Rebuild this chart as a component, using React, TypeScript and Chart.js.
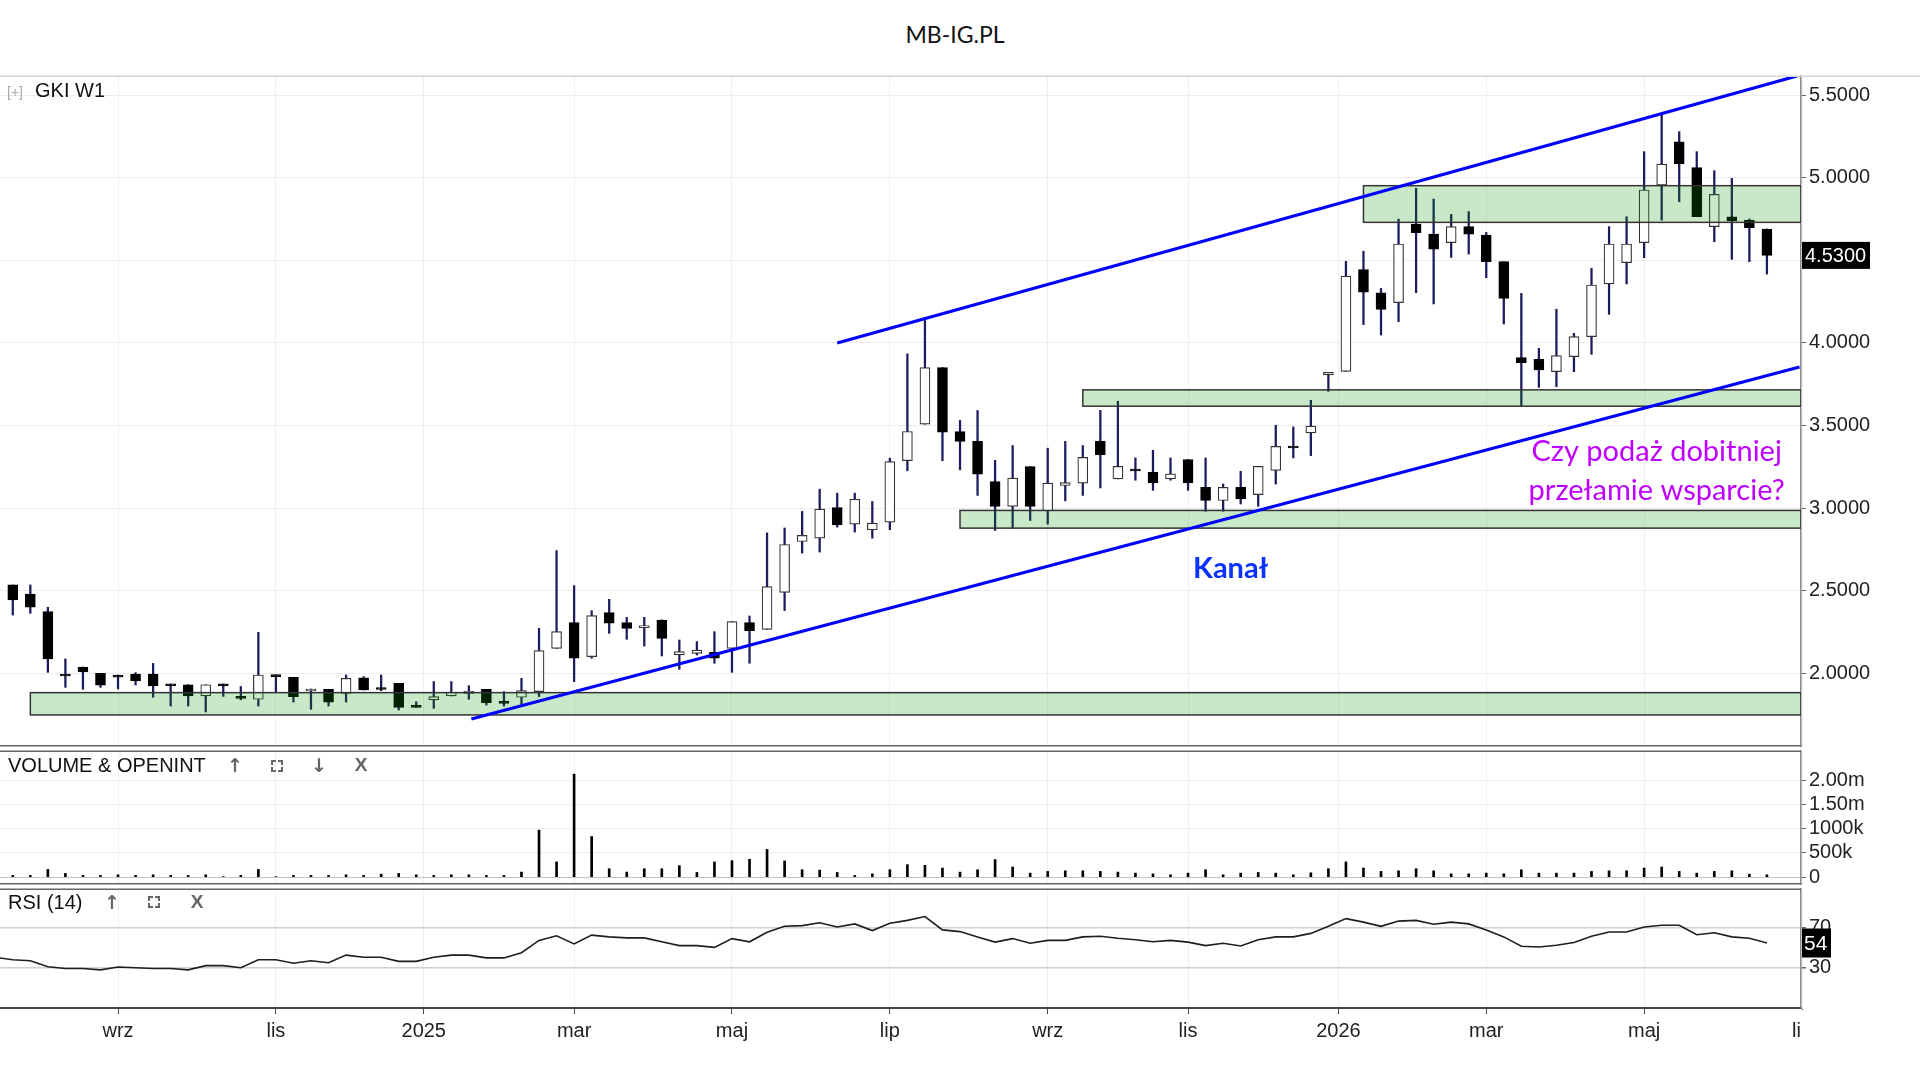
import React, { useEffect, useRef } from 'react';
import { Chart, registerables } from 'chart.js';

Chart.register(...registerables);

// ---------- data (weekly candles, first week 2024-07-22) ----------
const FIRST_WEEK = '2024-07-22';

const OPEN = [
  2.535, 2.48, 2.373, 1.99, 2.038, 2.0, 1.98, 1.996, 1.996, 1.935,
  1.931, 1.863, 1.935, 1.855, 1.843, 1.99, 1.976, 1.893, 1.903, 1.879,
  1.972, 1.905, 1.939, 1.8, 1.839, 1.863, 1.879, 1.903, 1.82, 1.855,
  1.889, 2.151, 2.307, 2.101, 2.367, 2.307, 2.276, 2.323, 2.111, 2.121,
  2.127, 2.151, 2.307, 2.266, 2.49, 2.798, 2.818, 3.004, 2.903, 2.869,
  2.915, 3.287, 3.508, 3.851, 3.464, 3.404, 3.161, 3.01, 3.252, 2.984,
  3.137, 3.151, 3.405, 3.177, 3.231, 3.217, 3.177, 3.294, 3.126, 3.046,
  3.126, 3.082, 3.229, 3.37, 3.455, 3.806, 3.828, 4.444, 4.304, 4.244,
  4.72, 4.659, 4.607, 4.704, 4.653, 4.492, 3.911, 3.901, 3.826, 3.917,
  4.038, 4.357, 4.486, 4.607, 4.956, 5.218, 5.061, 4.704, 4.764, 4.744,
  4.69,
];
const HIGH = [
  2.535, 2.535, 2.4, 2.087, 2.038, 2.0, 1.99, 2.004, 2.06, 1.935,
  1.931, 1.931, 1.935, 1.92, 2.248, 1.99, 1.976, 1.905, 1.903, 1.99,
  1.98, 1.99, 1.939, 1.828, 1.95, 1.95, 1.925, 1.903, 1.889, 1.97,
  2.272, 2.743, 2.531, 2.379, 2.448, 2.339, 2.339, 2.323, 2.202, 2.192,
  2.252, 2.313, 2.347, 2.85, 2.88, 2.98, 3.115, 3.091, 3.091, 3.04,
  3.303, 3.934, 4.136, 3.851, 3.531, 3.591, 3.289, 3.379, 3.252, 3.363,
  3.404, 3.379, 3.592, 3.647, 3.304, 3.35, 3.304, 3.294, 3.304, 3.146,
  3.223, 3.253, 3.502, 3.492, 3.653, 3.822, 4.494, 4.555, 4.33, 4.75,
  4.936, 4.871, 4.778, 4.795, 4.669, 4.492, 4.3, 3.967, 4.204, 4.058,
  4.452, 4.704, 4.764, 5.158, 5.38, 5.279, 5.158, 5.043, 4.996, 4.75,
  4.69,
];
const LOW = [
  2.353, 2.363, 2.006, 1.915, 1.903, 1.915, 1.905, 1.929, 1.855, 1.802,
  1.802, 1.766, 1.86, 1.84, 1.802, 1.883, 1.826, 1.782, 1.802, 1.826,
  1.899, 1.895, 1.778, 1.794, 1.788, 1.863, 1.843, 1.808, 1.802, 1.814,
  1.859, 2.151, 1.95, 2.091, 2.242, 2.206, 2.165, 2.105, 2.024, 2.111,
  2.061, 2.006, 2.061, 2.266, 2.38, 2.728, 2.734, 2.885, 2.855, 2.818,
  2.869, 3.226, 3.508, 3.287, 3.232, 3.077, 2.865, 2.879, 2.925, 2.903,
  3.044, 3.077, 3.122, 3.177, 3.169, 3.108, 3.169, 3.108, 2.981, 2.981,
  3.025, 3.011, 3.146, 3.304, 3.318, 3.707, 3.828, 4.111, 4.048, 4.129,
  4.304, 4.236, 4.518, 4.538, 4.395, 4.115, 3.616, 3.731, 3.735, 3.826,
  3.931, 4.173, 4.357, 4.516, 4.744, 4.855, 4.764, 4.613, 4.506, 4.492,
  4.417,
];
const CLOSE = [
  2.444, 2.4, 2.087, 1.984, 2.008, 1.929, 1.976, 1.954, 1.923, 1.925,
  1.863, 1.931, 1.925, 1.848, 1.99, 1.98, 1.859, 1.905, 1.826, 1.97,
  1.899, 1.902, 1.794, 1.794, 1.859, 1.887, 1.893, 1.822, 1.818, 1.895,
  2.137, 2.252, 2.091, 2.349, 2.303, 2.272, 2.289, 2.212, 2.131, 2.141,
  2.091, 2.313, 2.258, 2.525, 2.78, 2.835, 2.994, 2.899, 3.054, 2.909,
  3.282, 3.464, 3.851, 3.46, 3.404, 3.206, 3.01, 3.182, 3.01, 3.151,
  3.155, 3.307, 3.324, 3.253, 3.225, 3.153, 3.207, 3.153, 3.046, 3.126,
  3.056, 3.253, 3.374, 3.364, 3.496, 3.822, 4.404, 4.307, 4.203, 4.599,
  4.667, 4.567, 4.704, 4.659, 4.492, 4.27, 3.881, 3.836, 3.923, 4.038,
  4.351, 4.599, 4.599, 4.926, 5.083, 5.083, 4.764, 4.9, 4.74, 4.698,
  4.53,
];
// weekly volume, thousands of shares
const VOLUME_K = [
  35, 35, 160, 77, 35, 35, 49, 35, 49, 35,
  35, 49, 12, 35, 160, 12, 35, 35, 35, 49,
  35, 63, 77, 49, 35, 49, 49, 35, 35, 105,
  969, 314, 2120, 837, 174, 105, 174, 174, 237, 98,
  314, 341, 369, 572, 335, 153, 146, 98, 35, 70,
  153, 258, 244, 188, 105, 153, 363, 209, 84, 119,
  132, 132, 119, 105, 84, 70, 49, 84, 153, 49,
  84, 98, 84, 49, 91, 174, 314, 188, 119, 132,
  174, 132, 70, 70, 84, 70, 153, 84, 84, 84,
  119, 132, 132, 188, 209, 119, 84, 119, 132, 63,
  49,
];
// RSI(14), starting one week before the first candle
const RSI_FIRST_WEEK = '2024-07-15';
const RSI = [
  40,
  37.7, 36.7, 30.7, 28.9, 28.9, 27.5, 30.4, 29.6, 28.9, 28.9,
  27.5, 31.8, 31.8, 29.6, 37.7, 37.7, 34.2, 36.7, 34.6, 42.3,
  40.2, 40.2, 36.0, 36.0, 40.2, 42.3, 42.3, 39.5, 39.5, 44.7,
  57.0, 61.6, 53.5, 62.3, 60.5, 59.5, 59.5, 55.6, 51.8, 51.8,
  50.0, 58.8, 55.6, 65.1, 71.1, 71.8, 74.6, 70.4, 73.5, 66.8,
  74.2, 77.0, 80.9, 67.5, 65.8, 60.5, 55.3, 58.8, 54.2, 57.0,
  57.0, 60.5, 61.2, 59.1, 57.7, 55.6, 57.0, 55.3, 51.8, 54.2,
  51.4, 57.7, 60.5, 60.5, 64.0, 71.1, 78.8, 75.3, 71.1, 76.3,
  77.0, 73.2, 75.3, 73.5, 67.5, 60.5, 51.1, 50.4, 52.1, 54.9,
  61.2, 65.4, 65.4, 70.4, 72.1, 72.1, 62.6, 64.7, 60.5, 59.1,
  54.4,
];

const PRICE_TICKS = [2.0, 2.5, 3.0, 3.5, 4.0, 4.5, 5.0, 5.5];
const VOLUME_TICKS = [0, 500000, 1000000, 1500000, 2000000];
const VOLUME_TICK_LABELS = ['0', '500k', '1000k', '1.50m', '2.00m'];
const RSI_TICKS = [30, 70];
// month ticks sit on the first weekly bar of each month (years on the first session)
const MONTH_TICKS = [
  '2024-09-02', '2024-11-04', '2025-01-02', '2025-03-03', '2025-05-05', '2025-07-07',
  '2025-09-08', '2025-11-03', '2026-01-02', '2026-03-02', '2026-05-04', '2026-07-06',
];
const MONTH_LABELS = ['wrz', 'lis', '2025', 'mar', 'maj', 'lip', 'wrz', 'lis', '2026', 'mar', 'maj', 'lip'];

// trend channel
const CHANNEL_UPPER_DATES = ['2025-06-16', '2026-07-04'];
const CHANNEL_UPPER_VALUES = [4.0, 5.616];
const CHANNEL_LOWER_DATES = ['2025-01-21', '2026-07-05'];
const CHANNEL_LOWER_VALUES = [1.723, 3.854];

// support / resistance zones (extend to the right edge)
const ZONE_START = ['2024-07-29', '2025-08-04', '2025-09-22', '2026-01-12'];
const ZONE_LOW = [1.748, 2.879, 3.617, 4.73];
const ZONE_HIGH = [1.883, 2.986, 3.716, 4.952];

// ---------- helpers ----------
const SANS = '"Liberation Sans", Arial, sans-serif';
const NOTE_FONT = 'Lato, "Open Sans", sans-serif';
const FS = 20;

const NOTES = [
  { text: 'Kanał', date: '2025-11-20', price: 2.577, color: '#0a32ff', font: `bold 29px ${NOTE_FONT}` },
  { text: 'Czy podaż dobitniej', date: '2026-05-09', price: 3.285, color: '#c000ff', font: `29px ${NOTE_FONT}` },
  { text: 'przełamie wsparcie?', date: '2026-05-09', price: 3.052, color: '#c000ff', font: `29px ${NOTE_FONT}` },
];

const toDay = (s: string) => Date.parse(s + 'T00:00:00Z') / 86400000;
const weekDay = (start: string, i: number) => toDay(start) + 7 * i;
const X_MIN = toDay(FIRST_WEEK) - 5.1;
const X_MAX = toDay(FIRST_WEEK) + 713.6;
const AXIS_W = 119;

function xAxis(showLabels: boolean): any {
  return {
    type: 'linear',
    min: X_MIN,
    max: X_MAX,
    offset: false,
    afterBuildTicks: (s: any) => {
      s.ticks = MONTH_TICKS.map((d) => ({ value: toDay(d) }));
    },
    ticks: {
      display: showLabels,
      autoSkip: false,
      maxRotation: 0,
      minRotation: 0,
      padding: 5,
      color: '#222',
      font: { size: FS, family: SANS },
      callback: (_v: any, i: number) => MONTH_LABELS[i],
    },
    grid: {
      offset: false,
      color: '#efefef',
      lineWidth: 1,
      drawTicks: showLabels,
      tickLength: 6,
      tickColor: '#444',
    },
    border: { display: true, color: showLabels ? '#444' : '#666', width: showLabels ? 2 : 1.5 },
    afterFit: (s: any) => {
      s.paddingLeft = 0;
      s.paddingRight = 0;
      s.height = showLabels ? 40 : 0;
    },
  };
}

function yAxis(min: number, max: number, ticks: number[], label: (v: number, i: number) => string, gridColor: any, gridWidth = 1): any {
  return {
    type: 'linear',
    position: 'right',
    min,
    max,
    afterBuildTicks: (s: any) => {
      s.ticks = ticks.map((v) => ({ value: v }));
    },
    ticks: {
      padding: 3,
      color: '#222',
      font: { size: FS, family: SANS },
      callback: (v: any, i: number) => label(Number(v), i),
    },
    grid: { color: gridColor, lineWidth: gridWidth, tickColor: '#666', tickLength: 5, drawTicks: true },
    border: { display: true, color: '#888', width: 1.5 },
    afterFit: (s: any) => {
      s.width = AXIS_W;
      s.paddingTop = 0;
      s.paddingBottom = 0;
    },
  };
}

const baseOptions = (padTop: number, padBottom: number): any => ({
  responsive: false,
  animation: false,
  events: [],
  layout: { padding: { top: padTop, bottom: padBottom, left: 0, right: 0 } },
  plugins: { legend: { display: false }, tooltip: { enabled: false }, title: { display: false } },
});

function paneTopLine(color: string, fullWidth: boolean) {
  return (chart: any) => {
    const { ctx, chartArea: a } = chart;
    ctx.save();
    ctx.strokeStyle = color;
    ctx.lineWidth = 1.5;
    ctx.beginPath();
    ctx.moveTo(0, a.top + 0.25);
    ctx.lineTo(fullWidth ? chart.width : a.right, a.top + 0.25);
    ctx.stroke();
    ctx.restore();
  };
}

function mainConfig(): any {
  const isUp = (i: number) => CLOSE[i] >= OPEN[i];
  const bodies = OPEN.map((o, i) => ({ x: weekDay(FIRST_WEEK, i), y: [o, CLOSE[i]] }));
  const wicks = OPEN.map((_, i) => ({ x: weekDay(FIRST_WEEK, i), y: [LOW[i], HIGH[i]] }));
  const line = (dates: string[], vals: number[]) => dates.map((d, i) => ({ x: toDay(d), y: vals[i] }));
  const topLine = paneTopLine('#d6d6d6', true);
  return {
    type: 'bar',
    data: {
      datasets: [
        {
          type: 'line', data: line(CHANNEL_UPPER_DATES, CHANNEL_UPPER_VALUES),
          borderColor: '#0000ff', borderWidth: 3.2, pointRadius: 0, order: 1, clip: 0,
        },
        {
          type: 'line', data: line(CHANNEL_LOWER_DATES, CHANNEL_LOWER_VALUES),
          borderColor: '#0000ff', borderWidth: 3.2, pointRadius: 0, order: 1, clip: 0,
        },
        {
          type: 'bar', data: bodies, barThickness: 10, grouped: false, order: 2,
          backgroundColor: (c: any) => (isUp(c.dataIndex) ? '#ffffff' : '#000000'),
          borderColor: (c: any) => (isUp(c.dataIndex) ? '#333333' : '#000000'),
          borderWidth: 1.2, borderSkipped: false, minBarLength: 2,
        },
        {
          type: 'bar', data: wicks, barThickness: 1.6, grouped: false, order: 3,
          backgroundColor: '#1b1b5e', borderWidth: 0,
        },
      ],
    },
    options: {
      ...baseOptions(4, 2),
      scales: {
        x: xAxis(false),
        y: yAxis(1.56, 5.616, PRICE_TICKS, (v) => v.toFixed(4), '#ececec'),
      },
    },
    plugins: [
      {
        id: 'mainDecor',
        afterDatasetDraw(chart: any, args: any) {
          if (args.index !== 2) return;
          const { ctx, chartArea: a, scales } = chart;
          const x = scales.x;
          const y = scales.y;
          ctx.save();
          ctx.beginPath();
          ctx.rect(a.left, a.top, a.right - a.left, a.bottom - a.top);
          ctx.clip();
          ZONE_START.forEach((d, i) => {
            const x0 = x.getPixelForValue(toDay(d));
            const x1 = a.right;
            const y0 = y.getPixelForValue(ZONE_HIGH[i]);
            const y1 = y.getPixelForValue(ZONE_LOW[i]);
            ctx.fillStyle = 'rgba(0,148,0,0.215)';
            ctx.fillRect(x0, y0, x1 - x0, y1 - y0);
            ctx.strokeStyle = '#333333';
            ctx.lineWidth = 1.5;
            ctx.strokeRect(x0, y0, x1 - x0, y1 - y0);
          });
          ctx.restore();
        },
        afterDraw(chart: any) {
          const { ctx, chartArea: a, scales } = chart;
          const x = scales.x;
          const y = scales.y;
          topLine(chart);
          ctx.save();
          ctx.textAlign = 'center';
          ctx.textBaseline = 'alphabetic';
          NOTES.forEach((n) => {
            ctx.font = n.font;
            ctx.fillStyle = n.color;
            ctx.fillText(n.text, x.getPixelForValue(toDay(n.date)), y.getPixelForValue(n.price));
          });
          const last = CLOSE[CLOSE.length - 1];
          const py = y.getPixelForValue(last);
          ctx.fillStyle = '#000000';
          ctx.fillRect(a.right + 1, py - 13.5, 68, 27);
          ctx.fillStyle = '#ffffff';
          ctx.font = `${FS}px ${SANS}`;
          ctx.textAlign = 'left';
          ctx.textBaseline = 'middle';
          ctx.fillText(last.toFixed(4), a.right + 4, py + 1);
          ctx.restore();
        },
      },
    ],
  };
}

function volumeConfig(): any {
  const vols = VOLUME_K.map((v, i) => ({ x: weekDay(FIRST_WEEK, i), y: v * 1000 }));
  const topLine = paneTopLine('#666666', false);
  return {
    type: 'bar',
    data: {
      datasets: [
        { type: 'bar', data: vols, barThickness: 2, grouped: false, backgroundColor: '#000000', borderWidth: 0 },
      ],
    },
    options: {
      ...baseOptions(3, 2),
      scales: {
        x: xAxis(false),
        y: yAxis(-140000, 2597000, VOLUME_TICKS, (_v, i) => VOLUME_TICK_LABELS[i],
          (c: any) => (c.tick && c.tick.value === 0 ? '#c4c4c4' : '#efefef')),
      },
    },
    plugins: [{ id: 'volDecor', afterDraw: (chart: any) => topLine(chart) }],
  };
}

function rsiConfig(): any {
  const pts = RSI.map((v, i) => ({ x: weekDay(RSI_FIRST_WEEK, i), y: v }));
  const topLine = paneTopLine('#666666', false);
  return {
    type: 'line',
    data: {
      datasets: [
        { data: pts, borderColor: '#1e1e1e', borderWidth: 1.6, pointRadius: 0, tension: 0 },
      ],
    },
    options: {
      ...baseOptions(3, 0),
      scales: {
        x: xAxis(true),
        y: yAxis(-10.6, 108.4, RSI_TICKS, (v) => String(v), '#cfcfcf', 1.5),
      },
    },
    plugins: [
      {
        id: 'rsiDecor',
        afterDraw(chart: any) {
          const { ctx, chartArea: a, scales } = chart;
          topLine(chart);
          ctx.save();
          // the last month label is cut at the price axis
          ctx.fillStyle = '#ffffff';
          ctx.fillRect(a.right + 1, a.bottom + 2, chart.width - a.right, chart.height - a.bottom);
          const last = RSI[RSI.length - 1];
          const py = scales.y.getPixelForValue(last);
          ctx.fillStyle = '#000000';
          ctx.fillRect(a.right + 1, py - 14.5, 29, 29);
          ctx.fillStyle = '#ffffff';
          ctx.font = `21px ${SANS}`;
          ctx.textAlign = 'left';
          ctx.textBaseline = 'middle';
          ctx.fillText(String(Math.round(last)), a.right + 3, py + 1);
          ctx.restore();
        },
      },
    ],
  };
}

function Corners({ left, top }: { left: number; top: number }) {
  const c = '#666';
  const seg = (st: React.CSSProperties): React.CSSProperties => ({ position: 'absolute', width: 3, height: 3, ...st });
  const b = `2px solid ${c}`;
  return (
    <div style={{ position: 'absolute', left, top, width: 12, height: 12 }}>
      <span style={seg({ left: 0, top: 0, borderLeft: b, borderTop: b })} />
      <span style={seg({ right: 0, top: 0, borderRight: b, borderTop: b })} />
      <span style={seg({ left: 0, bottom: 0, borderLeft: b, borderBottom: b })} />
      <span style={seg({ right: 0, bottom: 0, borderRight: b, borderBottom: b })} />
    </div>
  );
}

const txt = (left: number, top: number, extra: React.CSSProperties = {}): React.CSSProperties => ({
  position: 'absolute', left, top, font: `${FS}px ${SANS}`, lineHeight: '22px', color: '#111', whiteSpace: 'nowrap', ...extra,
});
const icon = (cx: number, top: number, fam = '"DejaVu Sans", sans-serif'): React.CSSProperties => ({
  position: 'absolute', left: cx - 10, top, width: 20, textAlign: 'center',
  font: `bold 19px ${fam}`, lineHeight: '22px', color: '#666',
});

export default function App() {
  const mainRef = useRef<HTMLCanvasElement>(null);
  const volRef = useRef<HTMLCanvasElement>(null);
  const rsiRef = useRef<HTMLCanvasElement>(null);

  useEffect(() => {
    document.body.style.margin = '0';
    Chart.defaults.font.family = SANS;
    Chart.defaults.font.size = FS;
    Chart.defaults.color = '#222';
    const charts = [
      new Chart(mainRef.current as HTMLCanvasElement, mainConfig()),
      new Chart(volRef.current as HTMLCanvasElement, volumeConfig()),
      new Chart(rsiRef.current as HTMLCanvasElement, rsiConfig()),
    ];
    return () => charts.forEach((c) => c.destroy());
  }, []);

  return (
    <div style={{ position: 'fixed', left: 0, top: 0, width: 1920, height: 1080, background: '#fff', overflow: 'hidden' }}>
      <div style={{ position: 'absolute', left: 755, top: 20, width: 400, textAlign: 'center', font: `23px Lato, ${SANS}`, color: '#111' }}>
        MB-IG.PL
      </div>
      <canvas ref={mainRef} width={1920} height={676} style={{ position: 'absolute', left: 0, top: 72, width: 1920, height: 676 }} />
      <canvas ref={volRef} width={1920} height={138} style={{ position: 'absolute', left: 0, top: 748, width: 1920, height: 138 }} />
      <canvas ref={rsiRef} width={1920} height={162} style={{ position: 'absolute', left: 0, top: 886, width: 1920, height: 162 }} />

      <div style={txt(7, 81, { font: `14px ${SANS}`, color: '#aaa' })}>[+]</div>
      <div style={txt(35, 79)}>GKI W1</div>

      <div style={txt(8, 754)}>VOLUME &amp; OPENINT</div>
      <div style={icon(235, 754)}>↑</div>
      <Corners left={271} top={760} />
      <div style={icon(319, 754)}>↓</div>
      <div style={icon(361, 754, SANS)}>X</div>

      <div style={txt(8, 891)}>RSI (14)</div>
      <div style={icon(112, 891)}>↑</div>
      <Corners left={148} top={896} />
      <div style={icon(197, 891, SANS)}>X</div>
    </div>
  );
}
